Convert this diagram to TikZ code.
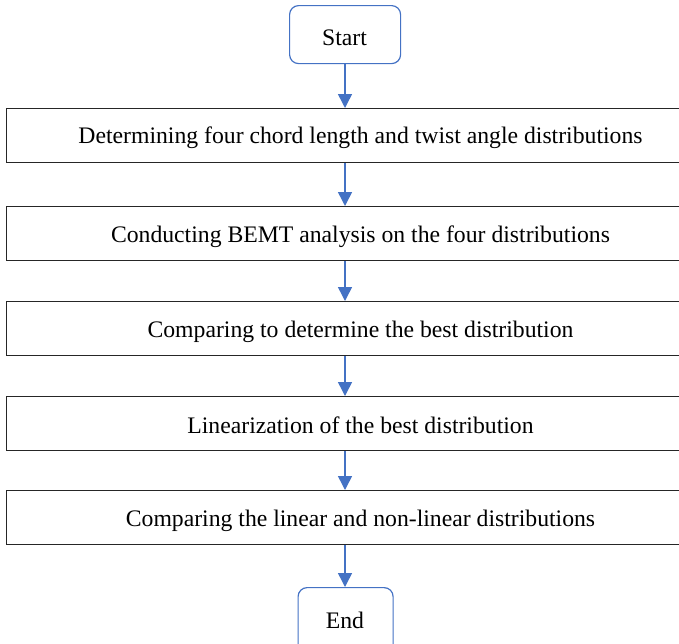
\documentclass[tikz,border=0pt]{standalone}
\usepackage{fontspec}
\setmainfont{Liberation Serif}
\usetikzlibrary{arrows.meta}
\definecolor{flowblue}{HTML}{4472C4}
\begin{document}
\begin{tikzpicture}[x=1pt,y=-1pt,
  txt/.style={font=\fontsize{23.7}{28}\selectfont, inner sep=0pt, anchor=base},
  stepbox/.style={draw=black!85, line width=1.2pt, minimum height=54pt, minimum width=686pt, anchor=north west, inner sep=0pt},
  termbox/.style={draw=flowblue, line width=1.2pt, rounded corners=9pt, anchor=north west, inner sep=0pt},
  flow/.style={draw=flowblue, line width=1.5pt, -{Triangle[width=14pt,length=14pt]}, color=flowblue}]
\useasboundingbox (0,0) rectangle (679,643);
\clip (0,0) rectangle (679,643);
\node[termbox, minimum width=111pt, minimum height=58pt] (start) at (289,5) {};
\node[txt] (tstart) at (344.5,45) {Start};
\node[stepbox] (s1) at (6,108) {};
\node[stepbox] (s2) at (6,206) {};
\node[stepbox] (s3) at (6,301) {};
\node[stepbox] (s4) at (6,396) {};
\node[stepbox] (s5) at (6,490) {};
\node[termbox, minimum width=95pt, minimum height=75pt] (end) at (297.5,587) {};
\node[txt] (tend) at (345,628) {End};
\node[txt] (t1) at (360.5,143) {Determining four chord length and twist angle distributions};
\node[txt] (t2) at (360.5,242) {Conducting BEMT analysis on the four distributions};
\node[txt] (t3) at (360.5,337) {Comparing to determine the best distribution};
\node[txt] (t4) at (360.5,433) {Linearization of the best distribution};
\node[txt] (t5) at (360.5,526) {Comparing the linear and non-linear distributions};
\coordinate (a0) at (345,63);
\draw[flow] (a0) -- (a0|-s1.north);
\draw[flow] (a0|-s1.south) -- (a0|-s2.north);
\draw[flow] (a0|-s2.south) -- (a0|-s3.north);
\draw[flow] (a0|-s3.south) -- (a0|-s4.north);
\draw[flow] (a0|-s4.south) -- (a0|-s5.north);
\draw[flow] (a0|-s5.south) -- (a0|-end.north);
\end{tikzpicture}
\end{document}
